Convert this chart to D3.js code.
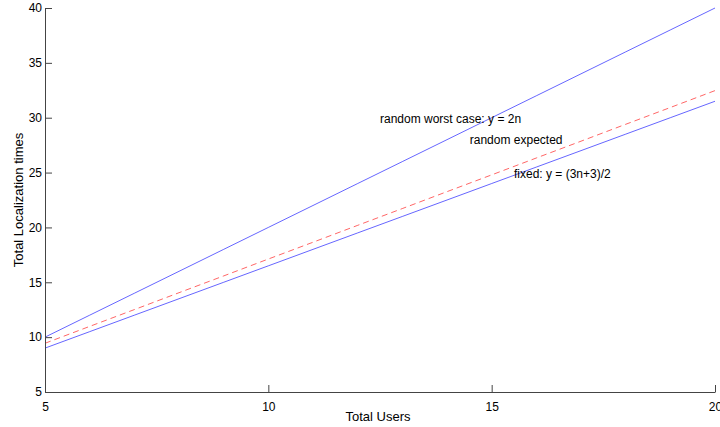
<!DOCTYPE html>
<html>
<head>
<meta charset="utf-8">
<script src="https://cdn.jsdelivr.net/npm/d3@7"></script>
<style>
  html, body { margin: 0; padding: 0; background: #fff; }
  svg { display: block; font-family: "Liberation Sans", Arial, sans-serif; }
</style>
</head>
<body>
<svg id="chart" width="720" height="427"></svg>
<script>
// Number of users in the system
const users = [5, 6, 7, 8, 9, 10, 11, 12, 13, 14, 15, 16, 17, 18, 19, 20];

// Localization counts for each scheme
const worstCase = [10, 12, 14, 16, 18, 20, 22, 24, 26, 28, 30, 32, 34, 36, 38, 40];
const expected  = [9.44, 10.98, 12.51, 14.05, 15.58, 17.12, 18.65, 20.19, 21.72, 23.26, 24.79, 26.33, 27.86, 29.40, 30.93, 32.47];
const fixed     = [9, 10.5, 12, 13.5, 15, 16.5, 18, 19.5, 21, 22.5, 24, 25.5, 27, 28.5, 30, 31.5];

const xTicks = [5, 10, 15, 20];
const yTicks = [5, 10, 15, 20, 25, 30, 35, 40];

const series = [
  { name: "worst", values: worstCase, color: "#0000ff", dash: null },
  { name: "expected", values: expected, color: "#ff0000", dash: "6,4" },
  { name: "fixed", values: fixed, color: "#0000ff", dash: null }
];

const annotations = [
  { text: "random worst case: y = 2n", x: 12.5, y: 29.52 },
  { text: "random expected", x: 14.51, y: 27.61 },
  { text: "fixed: y = (3n+3)/2", x: 15.5, y: 24.48 }
];

const svg = d3.select("#chart");
const plot = { left: 45, right: 715, top: 8, bottom: 392 };

const x = d3.scaleLinear().domain([5, 20]).range([plot.left, plot.right]);
const y = d3.scaleLinear().domain([5, 40]).range([plot.bottom, plot.top]);

// Curves
const line = d3.line()
  .x((d, i) => x(users[i]))
  .y(d => y(d));

svg.append("g")
  .selectAll("path")
  .data(series)
  .join("path")
  .attr("d", d => line(d.values))
  .attr("fill", "none")
  .attr("stroke", d => d.color)
  .attr("stroke-opacity", 0.6)
  .attr("stroke-width", 1)
  .attr("stroke-dasharray", d => d.dash);

// Axes with inward ticks
const axisColor = "#444";

const xAxis = svg.append("g")
  .attr("transform", `translate(0,${plot.bottom})`)
  .call(d3.axisBottom(x).tickValues(xTicks).tickSizeInner(-7).tickSizeOuter(0).tickPadding(10));

const yAxis = svg.append("g")
  .attr("transform", `translate(${plot.left},0)`)
  .call(d3.axisLeft(y).tickValues(yTicks).tickSizeInner(-7).tickSizeOuter(0).tickPadding(4));

[xAxis, yAxis].forEach(g => {
  g.select(".domain").attr("stroke", axisColor);
  g.selectAll(".tick line").attr("stroke", axisColor);
  g.selectAll(".tick text")
    .attr("fill", "#000")
    .style("font-size", "12px")
    .style("font-family", "'Liberation Sans', Arial, sans-serif");
});
yAxis.selectAll(".tick text").attr("x", -3);

// Axis titles
svg.append("text")
  .attr("x", 378)
  .attr("y", 421)
  .attr("text-anchor", "middle")
  .style("font-size", "13px")
  .text("Total Users");

svg.append("text")
  .attr("transform", `translate(23,200) rotate(-90)`)
  .attr("text-anchor", "middle")
  .style("font-size", "13px")
  .text("Total Localization times");

// Curve annotations
svg.append("g")
  .selectAll("text")
  .data(annotations)
  .join("text")
  .attr("x", d => x(d.x))
  .attr("y", d => y(d.y))
  .style("font-size", "12px")
  .attr("fill", "#000")
  .text(d => d.text);
</script>
</body>
</html>
